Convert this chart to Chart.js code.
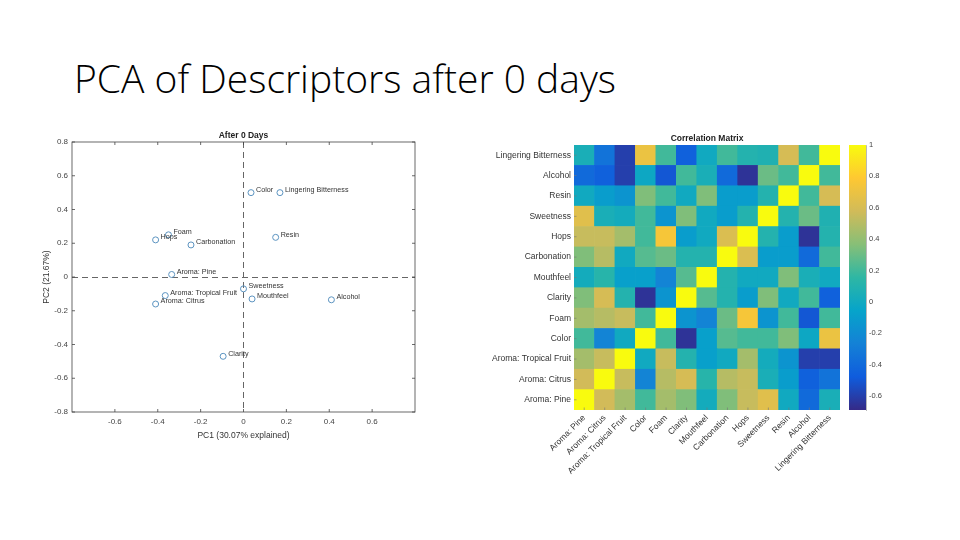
<!DOCTYPE html>
<html>
<head>
<meta charset="utf-8">
<script src="https://cdn.jsdelivr.net/npm/chart.js@4.4.0/dist/chart.umd.min.js"></script>
<style>
  body { margin:0; width:960px; height:540px; background:#fff; position:relative; overflow:hidden; }
  h1 { position:absolute; left:74px; top:51px; margin:0; font-family:'Open Sans'; font-weight:300; font-size:39px; color:#000; white-space:nowrap; }
  .box { position:absolute; }
  #pcaBox { left:38px; top:125px; width:392px; height:320px; }
  #corrBox { left:480px; top:125px; width:400px; height:380px; }
  #barBox { left:840px; top:125px; width:60px; height:300px; }
</style>
</head>
<body>
<h1>PCA of Descriptors after 0 days</h1>
<div class="box" id="pcaBox"><canvas id="pca"></canvas></div>
<div class="box" id="corrBox"><canvas id="corr"></canvas></div>
<div class="box" id="barBox"><canvas id="cbar"></canvas></div>
<script>
// descriptor order (bottom row / left column first)
const descriptors = ['Aroma: Pine', 'Aroma: Citrus', 'Aroma: Tropical Fruit', 'Color', 'Foam', 'Clarity',
  'Mouthfeel', 'Carbonation', 'Hops', 'Sweetness', 'Resin', 'Alcohol', 'Lingering Bitterness'];

// PCA loadings
const pc1 = [-0.335, -0.41, -0.365, 0.035, -0.35, -0.095, 0.04, -0.245, -0.41, 0.0, 0.15, 0.41, 0.17];
const pc2 = [0.015, -0.16, -0.11, 0.5, 0.25, -0.47, -0.13, 0.19, 0.22, -0.07, 0.235, -0.135, 0.5];
const pcaXTicks = [-0.6, -0.4, -0.2, 0, 0.2, 0.4, 0.6];
const pcaYTicks = [-0.8, -0.6, -0.4, -0.2, 0, 0.2, 0.4, 0.6, 0.8];

// correlation matrix, one row per descriptor
const rowPine       = [1, 0.58, 0.45, 0.2, 0.45, 0.35, 0.02, 0.35, 0.55, 0.65, 0.0, -0.4, 0.05];
const rowCitrus     = [0.58, 1, 0.55, -0.25, 0.5, 0.6, 0.12, 0.5, 0.55, 0.05, -0.1, -0.45, -0.35];
const rowTropical   = [0.45, 0.55, 1, 0.0, 0.55, 0.1, -0.08, 0.0, 0.45, 0.02, -0.15, -0.6, -0.6];
const rowColor      = [0.2, -0.25, 0.0, 1, 0.2, -0.65, -0.08, 0.25, 0.2, 0.2, 0.35, -0.02, 0.7];
const rowFoam       = [0.45, 0.5, 0.55, 0.2, 1, -0.15, -0.25, 0.3, 0.75, -0.15, 0.2, -0.5, 0.2];
const rowClarity    = [0.35, 0.6, 0.1, -0.65, -0.15, 1, 0.25, 0.1, -0.1, 0.35, 0.0, 0.2, -0.45];
const rowMouthfeel  = [0.02, 0.12, -0.08, -0.08, -0.25, 0.25, 1, 0.1, 0.0, 0.0, 0.35, 0.05, 0.0];
const rowCarbon     = [0.35, 0.5, 0.0, 0.25, 0.3, 0.1, 0.1, 1, 0.62, -0.1, -0.1, -0.4, 0.2];
const rowHops       = [0.55, 0.55, 0.45, 0.2, 0.75, -0.1, 0.0, 0.62, 1, 0.1, -0.1, -0.65, 0.1];
const rowSweetness  = [0.65, 0.05, 0.02, 0.2, -0.15, 0.35, 0.0, -0.1, 0.1, 1, 0.1, 0.3, 0.08];
const rowResin      = [0.0, -0.1, -0.15, 0.35, 0.2, 0.0, 0.35, -0.1, -0.1, 0.1, 1, 0.2, 0.6];
const rowAlcohol    = [-0.4, -0.45, -0.6, -0.02, -0.5, 0.2, 0.05, -0.4, -0.65, 0.3, 0.2, 1, 0.2];
const rowBitterness = [0.05, -0.35, -0.6, 0.7, 0.2, -0.45, 0.0, 0.2, 0.1, 0.08, 0.6, 0.2, 1];
const corrRows = [rowPine, rowCitrus, rowTropical, rowColor, rowFoam, rowClarity, rowMouthfeel,
  rowCarbon, rowHops, rowSweetness, rowResin, rowAlcohol, rowBitterness];

const cMin = -0.69, cMax = 1;
const cbarTicks = [-0.6, -0.4, -0.2, 0, 0.2, 0.4, 0.6, 0.8, 1];

// parula-like colour map
const parula = ['#352a87', '#0f5cdd', '#1481d6', '#06a4ca', '#2eb7a4', '#87bf77', '#d1bb59', '#fec832', '#f9fb0e'];
const hex = h => [1, 3, 5].map(i => parseInt(h.substr(i, 2), 16));
function colorFor(v) {
  let t = (v - cMin) / (cMax - cMin);
  t = Math.max(0, Math.min(1, t)) * (parula.length - 1);
  const i = Math.min(Math.floor(t), parula.length - 2), f = t - i;
  const a = hex(parula[i]), b = hex(parula[i + 1]);
  return 'rgb(' + a.map((c, k) => Math.round(c + (b[k] - c) * f)).join(',') + ')';
}

const fontFam = "'Liberation Sans', Arial, sans-serif";
Chart.defaults.font.family = fontFam;
Chart.defaults.animation = false;
Chart.defaults.plugins.legend.display = false;
Chart.defaults.plugins.tooltip.enabled = false;

const fmt = v => Math.abs(v) < 1e-9 ? '0' : String(Math.round(v * 10) / 10);

// ---------- PCA scatter ----------
const pcaFrame = {
  id: 'pcaFrame',
  afterDraw(chart) {
    const {ctx, chartArea: a, scales: {x, y}} = chart;
    ctx.save();
    ctx.strokeStyle = '#444';
    ctx.lineWidth = 0.8;
    ctx.strokeRect(a.left, a.top, a.right - a.left, a.bottom - a.top);
    ctx.beginPath();
    pcaXTicks.forEach(v => {
      const px = x.getPixelForValue(v);
      ctx.moveTo(px, a.bottom); ctx.lineTo(px, a.bottom - 3);
      ctx.moveTo(px, a.top); ctx.lineTo(px, a.top + 3);
    });
    pcaYTicks.forEach(v => {
      const py = y.getPixelForValue(v);
      ctx.moveTo(a.left, py); ctx.lineTo(a.left + 3, py);
      ctx.moveTo(a.right, py); ctx.lineTo(a.right - 3, py);
    });
    ctx.stroke();
    // title
    ctx.fillStyle = '#222';
    ctx.font = 'bold 8.5px ' + fontFam;
    ctx.textAlign = 'center';
    ctx.textBaseline = 'bottom';
    ctx.fillText('After 0 Days', (a.left + a.right) / 2, a.top - 2);
    // point labels
    ctx.fillStyle = '#333';
    ctx.font = '7.2px ' + fontFam;
    ctx.textAlign = 'left';
    ctx.textBaseline = 'middle';
    chart.getDatasetMeta(0).data.forEach((pt, i) => {
      ctx.fillText(descriptors[i], pt.x + 5, pt.y - 2.5);
    });
    ctx.restore();
  }
};

const zeroGrid = {
  color: c => (c.tick && c.tick.value === 0) ? '#666' : 'rgba(0,0,0,0)',
  lineWidth: 1,
  drawTicks: false
};

new Chart(document.getElementById('pca'), {
  type: 'scatter',
  data: {
    datasets: [{
      data: pc1.map((v, i) => ({x: v, y: pc2[i]})),
      pointStyle: 'circle',
      pointRadius: 3,
      borderColor: '#5b93c0',
      borderWidth: 1,
      backgroundColor: 'rgba(0,0,0,0)'
    }]
  },
  options: {
    responsive: true,
    maintainAspectRatio: false,
    layout: { padding: { left: 0, right: 15, top: 17, bottom: 0 } },
    scales: {
      x: {
        type: 'linear', min: -0.8, max: 0.8,
        afterBuildTicks: s => { s.ticks = pcaXTicks.map(v => ({value: v})); },
        afterFit: s => { s.height = 33; },
        grid: zeroGrid,
        border: { display: false, dash: [6, 4] },
        ticks: { callback: v => fmt(v), color: '#444', font: { size: 8 }, padding: 5, maxRotation: 0 },
        title: { display: true, text: 'PC1 (30.07% explained)', color: '#333', font: { size: 8.5 }, padding: { top: 0 } }
      },
      y: {
        type: 'linear', min: -0.8, max: 0.8,
        afterBuildTicks: s => { s.ticks = pcaYTicks.map(v => ({value: v})); },
        afterFit: s => { s.width = 34; },
        grid: zeroGrid,
        border: { display: false, dash: [6, 4] },
        ticks: { callback: v => fmt(v), color: '#444', font: { size: 8 }, padding: 4 },
        title: { display: true, text: 'PC2 (21.67%)', color: '#333', font: { size: 8.5 }, padding: { bottom: 0 } }
      }
    }
  },
  plugins: [pcaFrame]
});

// ---------- Correlation heat map ----------
const corrTitle = {
  id: 'corrTitle',
  afterDraw(chart) {
    const {ctx, chartArea: a, scales: {x, y}} = chart;
    ctx.save();
    ctx.strokeStyle = '#777';
    ctx.lineWidth = 0.6;
    ctx.beginPath();
    descriptors.forEach((d, i) => {
      const px = x.getPixelForValue(i), py = y.getPixelForValue(i + 0.5);
      ctx.moveTo(px, a.bottom); ctx.lineTo(px, a.bottom - 2.5);
      ctx.moveTo(a.left, py); ctx.lineTo(a.left + 2.5, py);
    });
    ctx.stroke();
    ctx.fillStyle = '#222';
    ctx.font = 'bold 8.5px ' + fontFam;
    ctx.textAlign = 'center';
    ctx.textBaseline = 'bottom';
    ctx.fillText('Correlation Matrix', (a.left + a.right) / 2, a.top - 2);
    ctx.restore();
  }
};

new Chart(document.getElementById('corr'), {
  type: 'bar',
  data: {
    labels: descriptors,
    datasets: corrRows.map((row, r) => ({
      label: descriptors[r],
      data: row.map(() => 1),
      backgroundColor: row.map(v => colorFor(v)),
      borderWidth: 0,
      barPercentage: 1,
      categoryPercentage: 1
    }))
  },
  options: {
    responsive: true,
    maintainAspectRatio: false,
    layout: { padding: { left: 0, right: 40, top: 20, bottom: 0 } },
    scales: {
      x: {
        stacked: true,
        afterFit: s => { s.height = 95; },
        grid: { display: false, drawTicks: false },
        border: { display: false },
        ticks: { color: '#333', font: { size: 8.5 }, minRotation: 45, maxRotation: 45, autoSkip: false, padding: 3 }
      },
      y: {
        stacked: true, min: 0, max: descriptors.length,
        afterBuildTicks: s => { s.ticks = descriptors.map((d, i) => ({value: i + 0.5})); },
        afterFit: s => { s.width = 94; },
        grid: { display: false, drawTicks: false },
        border: { display: false },
        ticks: { callback: (v, i) => descriptors[i], color: '#333', font: { size: 8.5 }, padding: 3 }
      }
    }
  },
  plugins: [corrTitle]
});

// ---------- Colour bar ----------
new Chart(document.getElementById('cbar'), {
  type: 'bar',
  data: {
    labels: [''],
    datasets: [{
      data: [[cMin, cMax]],
      borderWidth: 0,
      barPercentage: 1,
      categoryPercentage: 1,
      backgroundColor: c => {
        const {chart} = c;
        if (!chart.chartArea) return '#888';
        const y = chart.scales.y;
        const g = chart.ctx.createLinearGradient(0, y.getPixelForValue(cMin), 0, y.getPixelForValue(cMax));
        parula.forEach((col, i) => g.addColorStop(i / (parula.length - 1), col));
        return g;
      }
    }]
  },
  options: {
    responsive: true,
    maintainAspectRatio: false,
    layout: { padding: { left: 9, right: 0, top: 20, bottom: 15 } },
    scales: {
      x: { display: false },
      y: {
        position: 'right', min: cMin, max: cMax,
        afterBuildTicks: s => { s.ticks = cbarTicks.map(v => ({value: v})); },
        afterFit: s => { s.width = 34; },
        grid: { display: false, drawTicks: false },
        border: { display: true, color: '#888', width: 0.6 },
        ticks: { callback: v => fmt(v), color: '#444', font: { size: 7.5 }, padding: 3 }
      }
    }
  }
});
</script>
</body>
</html>
